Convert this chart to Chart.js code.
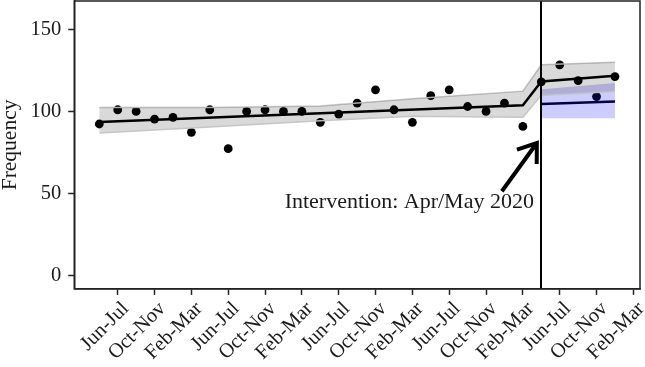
<!DOCTYPE html>
<html>
<head>
<meta charset="utf-8">
<script src="https://cdn.jsdelivr.net/npm/chart.js@4.4.1/dist/chart.umd.min.js"></script>
<style>
  body { margin: 0; background: #fff; }
  #wrap { width: 645px; height: 367px; }
</style>
</head>
<body>
<div id="wrap"><canvas id="itsChart"></canvas></div>
<script>
// bimonthly periods, Apr-May 2016 onwards (index = position on x axis)
const periodLabels = [
  'Apr-May', 'Jun-Jul', 'Aug-Sep', 'Oct-Nov', 'Dec-Jan', 'Feb-Mar',
  'Apr-May', 'Jun-Jul', 'Aug-Sep', 'Oct-Nov', 'Dec-Jan', 'Feb-Mar',
  'Apr-May', 'Jun-Jul', 'Aug-Sep', 'Oct-Nov', 'Dec-Jan', 'Feb-Mar',
  'Apr-May', 'Jun-Jul', 'Aug-Sep', 'Oct-Nov', 'Dec-Jan', 'Feb-Mar',
  'Apr-May', 'Jun-Jul', 'Aug-Sep', 'Oct-Nov', 'Dec-Jan', 'Feb-Mar'
];
const xTickIdx = [1, 3, 5, 7, 9, 11, 13, 15, 17, 19, 21, 23, 25, 27, 29];
const yTicks = [0, 50, 100, 150];

// observed frequency per period
const observed = [
  92.5, 101.2, 100.2, 95.5, 96.5, 87.4, 101.2, 77.4, 100.2, 101.2,
  100.2, 100.2, 93.5, 98.6, 105.3, 113.4, 101.2, 93.5, 109.8, 113.4,
  103.2, 100.2, 105.3, 91.0, 118.3, 128.7, 119.0, 109.3, 121.5
];

// fitted segmented regression
const fitX = [0, 23, 24, 28];
const fitY = [93.7, 104.0, 118.5, 122.0];

// confidence band around fit
const ciX = [0, 6, 12, 17, 23, 24, 28];
const ciUpper = [102.6, 102.6, 103.5, 108.0, 112.6, 128.7, 130.3];
const ciLower = [87.0, 90.6, 94.5, 97.2, 96.6, 110.0, 112.4];

// counterfactual (no intervention) after Apr/May 2020
const cfX = [24, 28];
const cfY = [104.7, 106.3];
const cfUpper = [113.8, 117.5];
const cfLower = [96.0, 96.0];

const interventionIdx = 24;
const interventionText = 'Intervention: Apr/May 2020';

const serif = 'Liberation Serif';
const ink = '#1a1a1a';

function pts(xs, ys) {
  return xs.map((x, i) => ({ x: x, y: ys[i] }));
}

// frame, intervention line, arrow and label
const extrasPlugin = {
  id: 'extras',
  afterDatasetsDraw(chart) {
    const { ctx, chartArea, scales } = chart;
    const xs = scales.x, ys = scales.y;
    ctx.save();

    // vertical intervention line
    const vx = Math.round(xs.getPixelForValue(interventionIdx));
    ctx.strokeStyle = '#000';
    ctx.lineWidth = 2;
    ctx.beginPath();
    ctx.moveTo(vx, chartArea.top);
    ctx.lineTo(vx, chartArea.bottom);
    ctx.stroke();

    // arrow pointing at the intervention
    const tailX = xs.getPixelForValue(21.86), tailY = ys.getPixelForValue(51.4);
    const tipX = xs.getPixelForValue(23.76), tipY = ys.getPixelForValue(80.9);
    const ang = Math.atan2(tipY - tailY, tipX - tailX);
    const headLen = 21, spread = 0.62;
    ctx.lineWidth = 4;
    ctx.lineCap = 'butt';
    ctx.beginPath();
    ctx.moveTo(tailX, tailY);
    ctx.lineTo(tipX, tipY);
    ctx.moveTo(tipX - headLen * Math.cos(ang - spread), tipY - headLen * Math.sin(ang - spread));
    ctx.lineTo(tipX, tipY);
    ctx.lineTo(tipX - headLen * Math.cos(ang + spread), tipY - headLen * Math.sin(ang + spread));
    ctx.stroke();

    // label
    ctx.fillStyle = ink;
    ctx.font = '22px "' + serif + '"';
    ctx.textAlign = 'right';
    ctx.textBaseline = 'alphabetic';
    ctx.fillText(interventionText, xs.getPixelForValue(23.6), ys.getPixelForValue(41.3));

    // box around plot
    ctx.lineWidth = 1.5;
    ctx.strokeStyle = '#222';
    ctx.strokeRect(chartArea.left, chartArea.top, chartArea.right - chartArea.left, chartArea.bottom - chartArea.top);
    ctx.restore();
  }
};

const ctx = document.getElementById('itsChart').getContext('2d');
new Chart(ctx, {
  type: 'line',
  data: {
    datasets: [
      {
        label: 'Observed',
        data: observed.map((v, i) => ({ x: i, y: v })),
        showLine: false,
        pointRadius: 4.4,
        pointBorderWidth: 0,
        pointBackgroundColor: '#000',
        order: 10
      },
      {
        label: 'cf upper',
        data: pts(cfX, cfUpper),
        borderWidth: 0,
        pointRadius: 0,
        fill: false,
        order: 9
      },
      {
        label: 'cf lower',
        data: pts(cfX, cfLower),
        borderWidth: 0,
        pointRadius: 0,
        fill: { target: 1 },
        backgroundColor: 'rgba(0, 0, 255, 0.2)',
        order: 8
      },
      {
        label: 'Counterfactual',
        data: pts(cfX, cfY),
        borderColor: '#000048',
        borderWidth: 2.5,
        pointRadius: 0,
        fill: false,
        order: 7
      },
      {
        label: 'ci upper',
        data: pts(ciX, ciUpper),
        borderColor: 'rgba(195, 195, 195, 0.95)',
        borderWidth: 1.5,
        pointRadius: 0,
        fill: false,
        order: 6
      },
      {
        label: 'ci lower',
        data: pts(ciX, ciLower),
        borderColor: 'rgba(195, 195, 195, 0.95)',
        borderWidth: 1.5,
        pointRadius: 0,
        fill: { target: 4 },
        backgroundColor: 'rgba(0, 0, 0, 0.15)',
        order: 5
      },
      {
        label: 'Fitted',
        data: pts(fitX, fitY),
        borderColor: '#000',
        borderWidth: 2.5,
        pointRadius: 0,
        fill: false,
        order: 1
      }
    ]
  },
  options: {
    responsive: true,
    maintainAspectRatio: false,
    animation: false,
    layout: { autoPadding: false, padding: { left: 0, right: 5, top: 1, bottom: 0 } },
    plugins: {
      legend: { display: false },
      tooltip: { enabled: false }
    },
    scales: {
      x: {
        type: 'linear',
        min: -1.36,
        max: 29.36,
        afterBuildTicks: s => { s.ticks = xTickIdx.map(v => ({ value: v })); },
        afterFit: s => { s.paddingLeft = 0; s.paddingRight = 0; },
        ticks: {
          autoSkip: false,
          maxRotation: 45,
          minRotation: 45,
          padding: 2,
          labelOffset: 8,
          color: ink,
          font: { family: serif, size: 20.5 },
          callback: v => periodLabels[v]
        },
        grid: { drawOnChartArea: false, drawTicks: true, tickLength: 6, tickWidth: 1.5, tickColor: '#222' },
        border: { display: true, color: '#222', width: 1.5 }
      },
      y: {
        min: -8.3,
        max: 167.7,
        afterBuildTicks: s => { s.ticks = yTicks.map(v => ({ value: v })); },
        afterFit: s => { s.paddingTop = 0; s.paddingBottom = 0; },
        ticks: {
          padding: 7,
          color: ink,
          font: { family: serif, size: 20.5 }
        },
        grid: { drawOnChartArea: false, drawTicks: true, tickLength: 6, tickWidth: 1.5, tickColor: '#222' },
        border: { display: true, color: '#222', width: 1.5 },
        title: {
          display: true,
          text: 'Frequency',
          color: ink,
          font: { family: serif, size: 21.5, lineHeight: 1 },
          padding: { top: 0, bottom: 2 }
        }
      }
    }
  },
  plugins: [extrasPlugin]
});
</script>
</body>
</html>
